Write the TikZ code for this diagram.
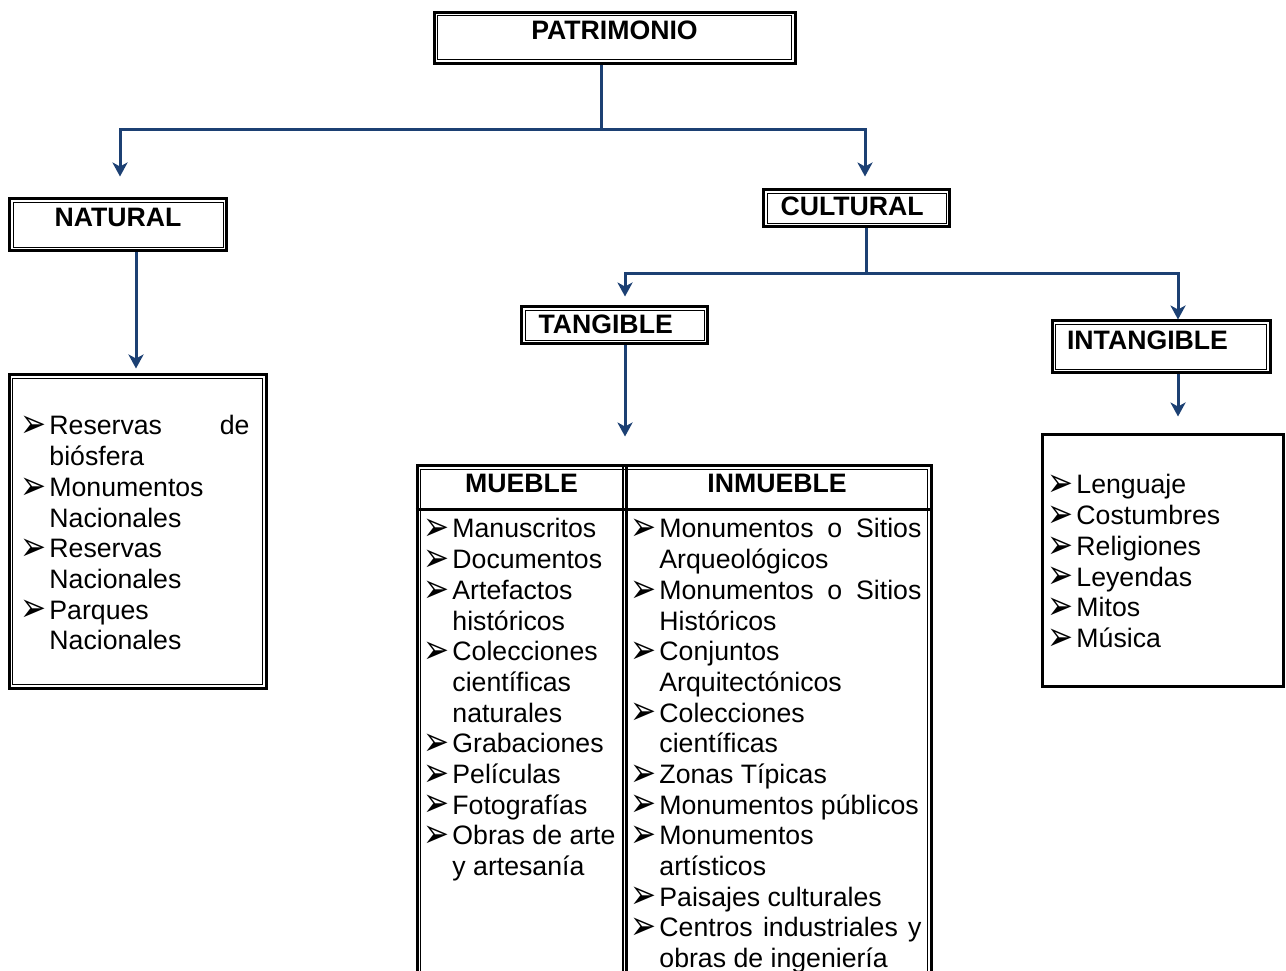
\documentclass[tikz,border=0pt]{standalone}
\usepackage{fontspec}
\usepackage{graphicx}
\setmainfont{Liberation Sans}
\newfontfamily\dingfont{DejaVu Sans}
\usetikzlibrary{arrows.meta}
\newlength\px
\setlength\px{0.45pt}
\definecolor{linkblue}{RGB}{28,64,115}
\newcommand{\itembul}{\llap{\smash{\raisebox{-1.2pt}{\scalebox{1}[1.3]{\dingfont\fontsize{14pt}{14pt}\selectfont ➢}}}\hspace{2.5\px}}}

\begin{document}
\begin{tikzpicture}[x=0.45pt, y=-0.45pt,
  dbox/.style={draw, line width=1.35pt, inner sep=0pt,
    font=\fontsize{12pt}{14pt}\selectfont\bfseries,
    path picture={\draw[line width=0.45pt]
      ([shift={(3.5\px,-3.5\px)}]path picture bounding box.north west) rectangle
      ([shift={(-3.5\px,3.5\px)}]path picture bounding box.south east);}},
  sbox/.style={draw, line width=1.35pt, inner sep=0pt},
  item/.style={anchor=base west, inner sep=0pt, font=\fontsize{12pt}{13.8pt}\selectfont},
  conn/.style={draw=linkblue, line width=1.35pt},
  arr/.style={-{Stealth[length=6.3pt, width=6.8pt, inset=1.8pt]}}]
  \useasboundingbox (0,0) rectangle (1286,971);

  % boxes
  \node[dbox, text width=361\px, align=center, text height=27.5\px, text depth=23.5\px] (patri) at (614.5,38) {PATRIMONIO};
  \node[dbox, text width=217\px, align=center, text height=28\px, text depth=24\px] (natural) at (118,225) {NATURAL};
  \node[dbox, text width=186\px, align=left, text height=26\px, text depth=11\px] (cultural) at (856.5,208.5) {\hspace*{17\px}CULTURAL};
  \node[dbox, text width=186\px, align=left, text height=27\px, text depth=10\px] (tangible) at (614.5,325.5) {\hspace*{17\px}TANGIBLE};
  \node[dbox, text width=218\px, align=left, text height=29\px, text depth=23\px] (intangible) at (1161,347) {\hspace*{15\px}INTANGIBLE};
  \node[dbox, minimum width=257\px, minimum height=313\px] (natlist) at (137.5,531.5) {};
  \node[sbox, minimum width=241\px, minimum height=251\px] (intlist) at (1162.5,560.5) {};
  \node[dbox, minimum width=514\px, minimum height=534\px] (tbl) at (674,733) {};

  % table rules
  \coordinate (hl) at (0,509.5);
  \draw[line width=1.35pt] (tbl.west |- hl) -- (tbl.east |- hl);
  \draw[line width=0.6pt] ([xshift=-51\px]tbl.north) -- ([xshift=-51\px]tbl.south);
  \draw[line width=1.1pt] ([xshift=-47.5\px]tbl.north) -- ([xshift=-47.5\px]tbl.south);
  \node[item, anchor=base, font=\fontsize{12pt}{14pt}\selectfont\bfseries] (mueble) at (521.5,493) {MUEBLE};
  \node[item, anchor=base, font=\fontsize{12pt}{14pt}\selectfont\bfseries] (inmueble) at (777,493) {INMUEBLE};

  % connectors
  \coordinate (j1) at (601,130);
  \coordinate (j2) at (866,274);
  \coordinate (n1) at ([xshift=18\px]natural.south);
  \coordinate (t1) at ([xshift=10.5\px]tangible.south);
  \coordinate (i1) at ([xshift=17\px]intangible.south);
  \draw[conn] (patri.south -| j1) -- (j1);
  \draw[conn, arr, shorten >=21\px] (j1) -| ([xshift=2\px]natural.north);
  \draw[conn, arr, shorten >=12\px] (j1) -| ([xshift=8.5\px]cultural.north);
  \draw[conn] (cultural.south -| j2) -- (j2);
  \draw[conn, arr, shorten >=9\px] (j2) -| ([xshift=10.5\px]tangible.north);
  \draw[conn, arr] (j2) -| ([xshift=17\px]intangible.north);
  \draw[conn, arr, shorten >=5\px] (n1) -- (n1 |- natlist.north);
  \draw[conn, arr, shorten >=28\px] (t1) -- (t1 |- tbl.north);
  \draw[conn, arr, shorten >=17\px] (i1) -- (i1 |- intlist.north);

  % lists
  \foreach \txt [count=\i] in {{\itembul\makebox[200\px][s]{Reservas\hfill de}}, biósfera,
      \itembul Monumentos, Nacionales, \itembul Reservas, Nacionales, \itembul Parques, Nacionales}
    \node[item] (nat\i) at (49,{435+30.67*(\i-1)}) {\txt};
  \foreach \txt [count=\i] in {\itembul Manuscritos, \itembul Documentos, \itembul Artefactos, históricos,
      \itembul Colecciones, científicas, naturales, \itembul Grabaciones, \itembul Películas,
      \itembul Fotografías, \itembul Obras de arte, y artesanía}
    \node[item] (mue\i) at (452,{538+30.67*(\i-1)}) {\txt};
  \foreach \txt [count=\i] in {{\itembul\makebox[262\px][s]{Monumentos\hfill o\hfill Sitios}}, Arqueológicos,
      {\itembul\makebox[262\px][s]{Monumentos\hfill o\hfill Sitios}}, Históricos,
      \itembul Conjuntos, Arquitectónicos, \itembul Colecciones, científicas, \itembul Zonas Típicas,
      \itembul Monumentos públicos, \itembul Monumentos, artísticos, \itembul Paisajes culturales,
      {\itembul\makebox[262\px][s]{Centros\hfill industriales\hfill y}}, obras de ingeniería}
    \node[item] (inm\i) at (659,{538+30.67*(\i-1)}) {\txt};
  \foreach \txt [count=\i] in {\itembul Lenguaje, \itembul Costumbres, \itembul Religiones,
      \itembul Leyendas, \itembul Mitos, \itembul Música}
    \node[item] (int\i) at (1076,{494+30.67*(\i-1)}) {\txt};
\end{tikzpicture}
\end{document}
